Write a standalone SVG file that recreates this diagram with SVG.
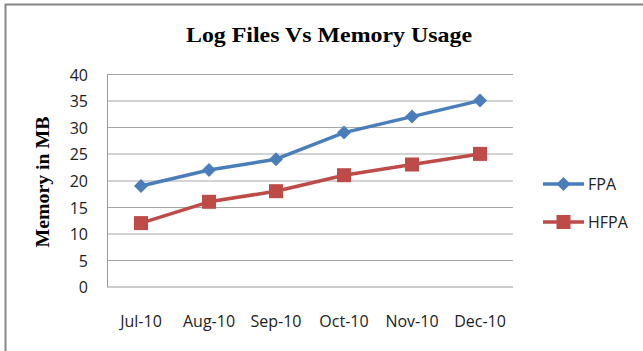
<svg xmlns="http://www.w3.org/2000/svg" width="643" height="351" viewBox="0 0 643 351">
<style>
.grid{stroke:#a6a6a6;stroke-width:1;fill:none}
.axis{stroke:#9a9a9a;stroke-width:1;fill:none}
.tick{font-family:"Open Sans","Liberation Sans",sans-serif;font-size:16px;fill:#222}
.title{font-family:"Liberation Serif",serif;font-weight:bold;fill:#000}
.fpa{stroke:#4a7ebb;stroke-width:3.5;fill:none;stroke-linejoin:round}
.hfpa{stroke:#be4b48;stroke-width:3.5;fill:none;stroke-linejoin:round}
</style>
<defs>
<path id="dia" d="M0,-7 L7,0 L0,7 L-7,0 Z" fill="#4a7ebb"/>
<rect id="sq" x="-7" y="-7" width="14" height="14" fill="#be4b48"/>
</defs>
<rect width="643" height="351" fill="#fff"/>
<g id="frame">
<line x1="5" y1="4.5" x2="643" y2="4.5" stroke="#858585" stroke-width="2"/>
<line x1="5.5" y1="4" x2="5.5" y2="351" stroke="#858585" stroke-width="2"/>
</g>
<text id="title" class="title" x="329" y="42" font-size="21" text-anchor="middle" textLength="286" lengthAdjust="spacingAndGlyphs">Log Files Vs Memory Usage</text>
<text id="ylabel" class="title" font-size="19" text-anchor="middle" textLength="131" lengthAdjust="spacingAndGlyphs" transform="translate(49,182) rotate(-90)">Memory in MB</text>
<g id="gridlines">
<line class="grid" x1="107" y1="74.5" x2="513" y2="74.5"/>
<line class="grid" x1="107" y1="101" x2="513" y2="101"/>
<line class="grid" x1="107" y1="127.5" x2="513" y2="127.5"/>
<line class="grid" x1="107" y1="154" x2="513" y2="154"/>
<line class="grid" x1="107" y1="181" x2="513" y2="181"/>
<line class="grid" x1="107" y1="207.5" x2="513" y2="207.5"/>
<line class="grid" x1="107" y1="234" x2="513" y2="234"/>
<line class="grid" x1="107" y1="260.5" x2="513" y2="260.5"/>
<line class="axis" x1="107" y1="287" x2="513" y2="287"/>
<line class="axis" x1="107.5" y1="74" x2="107.5" y2="287"/>
</g>
<g id="yticks" class="tick" text-anchor="end">
<text x="88" y="80.5">40</text>
<text x="88" y="107">35</text>
<text x="88" y="133.5">30</text>
<text x="88" y="160">25</text>
<text x="88" y="187">20</text>
<text x="88" y="213.5">15</text>
<text x="88" y="240">10</text>
<text x="88" y="266.5">5</text>
<text x="88" y="293">0</text>
</g>
<g id="xticks" class="tick" text-anchor="middle">
<text x="141" y="327">Jul-10</text>
<text x="209" y="327">Aug-10</text>
<text x="276" y="327">Sep-10</text>
<text x="344" y="327">Oct-10</text>
<text x="412" y="327">Nov-10</text>
<text x="480" y="327">Dec-10</text>
</g>
<g id="connectors">
<polyline id="FPA-line" class="fpa" points="141,186 209,170 276,159.2 344,132.6 412,116.6 480,100.6"/>
<polyline id="HFPA-line" class="hfpa" points="141,223.1 209,201.8 276,191.2 344,175.2 412,164.5 480,153.9"/>
</g>
<g id="FPA-markers">
<use href="#dia" x="141" y="186"/>
<use href="#dia" x="209" y="170"/>
<use href="#dia" x="276" y="159.2"/>
<use href="#dia" x="344" y="132.6"/>
<use href="#dia" x="412" y="116.6"/>
<use href="#dia" x="480" y="100.6"/>
</g>
<g id="HFPA-markers">
<use href="#sq" x="141" y="223.1"/>
<use href="#sq" x="209" y="201.8"/>
<use href="#sq" x="276" y="191.2"/>
<use href="#sq" x="344" y="175.2"/>
<use href="#sq" x="412" y="164.5"/>
<use href="#sq" x="480" y="153.9"/>
</g>
<g id="legend">
<line class="fpa" x1="543" y1="184" x2="584" y2="184"/>
<use href="#dia" x="563.5" y="184"/>
<text class="tick" x="588" y="189.5">FPA</text>
<line class="hfpa" x1="543" y1="222" x2="584" y2="222"/>
<use href="#sq" x="563.5" y="222"/>
<text class="tick" x="588" y="227.5">HFPA</text>
</g>
</svg>
